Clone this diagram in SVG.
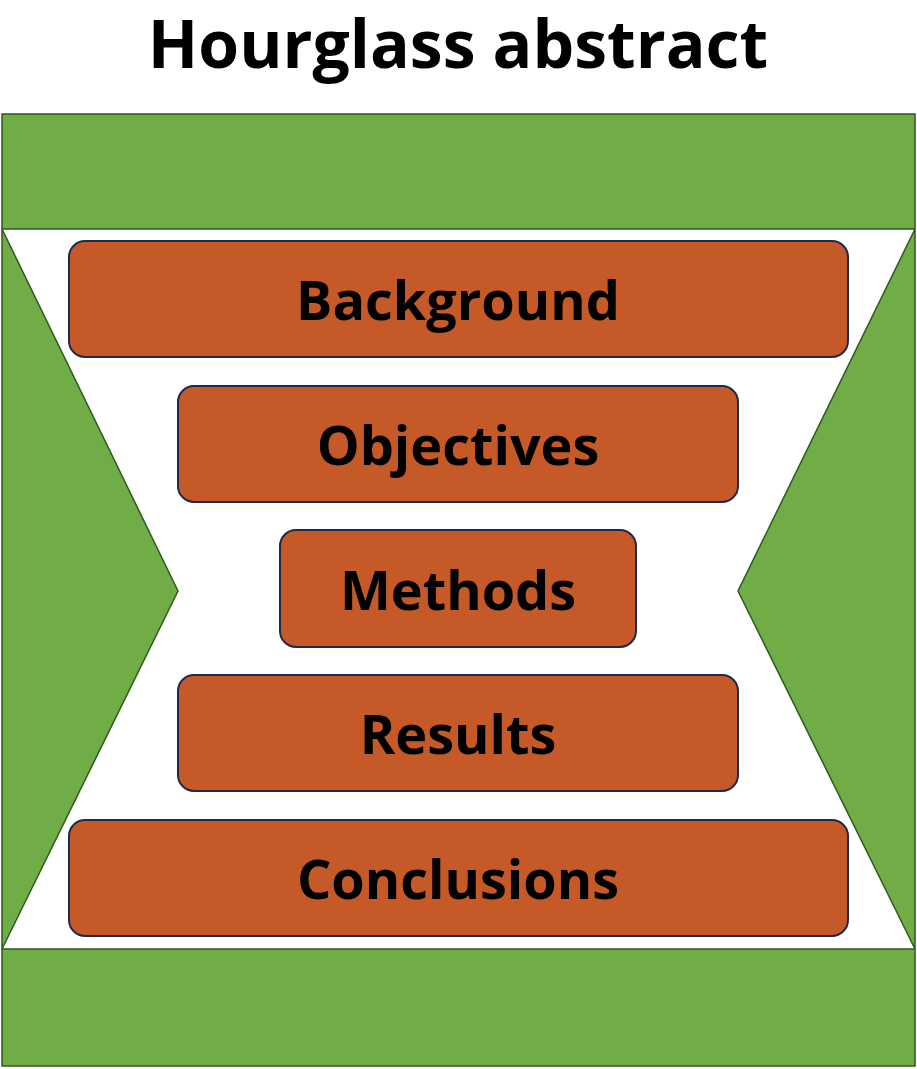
<svg xmlns="http://www.w3.org/2000/svg" width="917" height="1069" viewBox="0 0 917 1069">
<style>
.g{fill:#70AD47;stroke:#2E5A1C;stroke-width:1.5}
.b{fill:#C55A28;stroke:#1F2A4A;stroke-width:2}
.t{font-family:"Open Sans","Liberation Sans",sans-serif;font-weight:bold;font-size:54px;fill:#000;text-anchor:middle;dominant-baseline:central}
.h{font-family:"Open Sans","Liberation Sans",sans-serif;font-weight:bold;font-size:66px;fill:#000;text-anchor:middle}
</style>
<rect width="917" height="1069" fill="#fff"/>
<text x="458" y="68" class="h">Hourglass abstract</text>
<g id="frame">
<rect class="g" x="2" y="114" width="913" height="115"/>
<rect class="g" x="2" y="949" width="913" height="117"/>
<polygon class="g" points="2,229 178,591 2,949"/>
<polygon class="g" points="915,229 738,591 915,949"/>
</g>
<g id="background"><rect class="b" x="69" y="241" width="779" height="116" rx="16"/><text class="t" x="458" y="299">Background</text></g>
<g id="objectives"><rect class="b" x="178" y="386" width="560" height="116" rx="16"/><text class="t" x="458" y="444">Objectives</text></g>
<g id="methods"><rect class="b" x="280" y="530" width="356" height="117" rx="16"/><text class="t" x="458" y="589">Methods</text></g>
<g id="results"><rect class="b" x="178" y="675" width="560" height="116" rx="16"/><text class="t" x="458" y="733">Results</text></g>
<g id="conclusions"><rect class="b" x="69" y="820" width="779" height="116" rx="16"/><text class="t" x="458" y="878">Conclusions</text></g>
<g id="connectors"/>
</svg>
